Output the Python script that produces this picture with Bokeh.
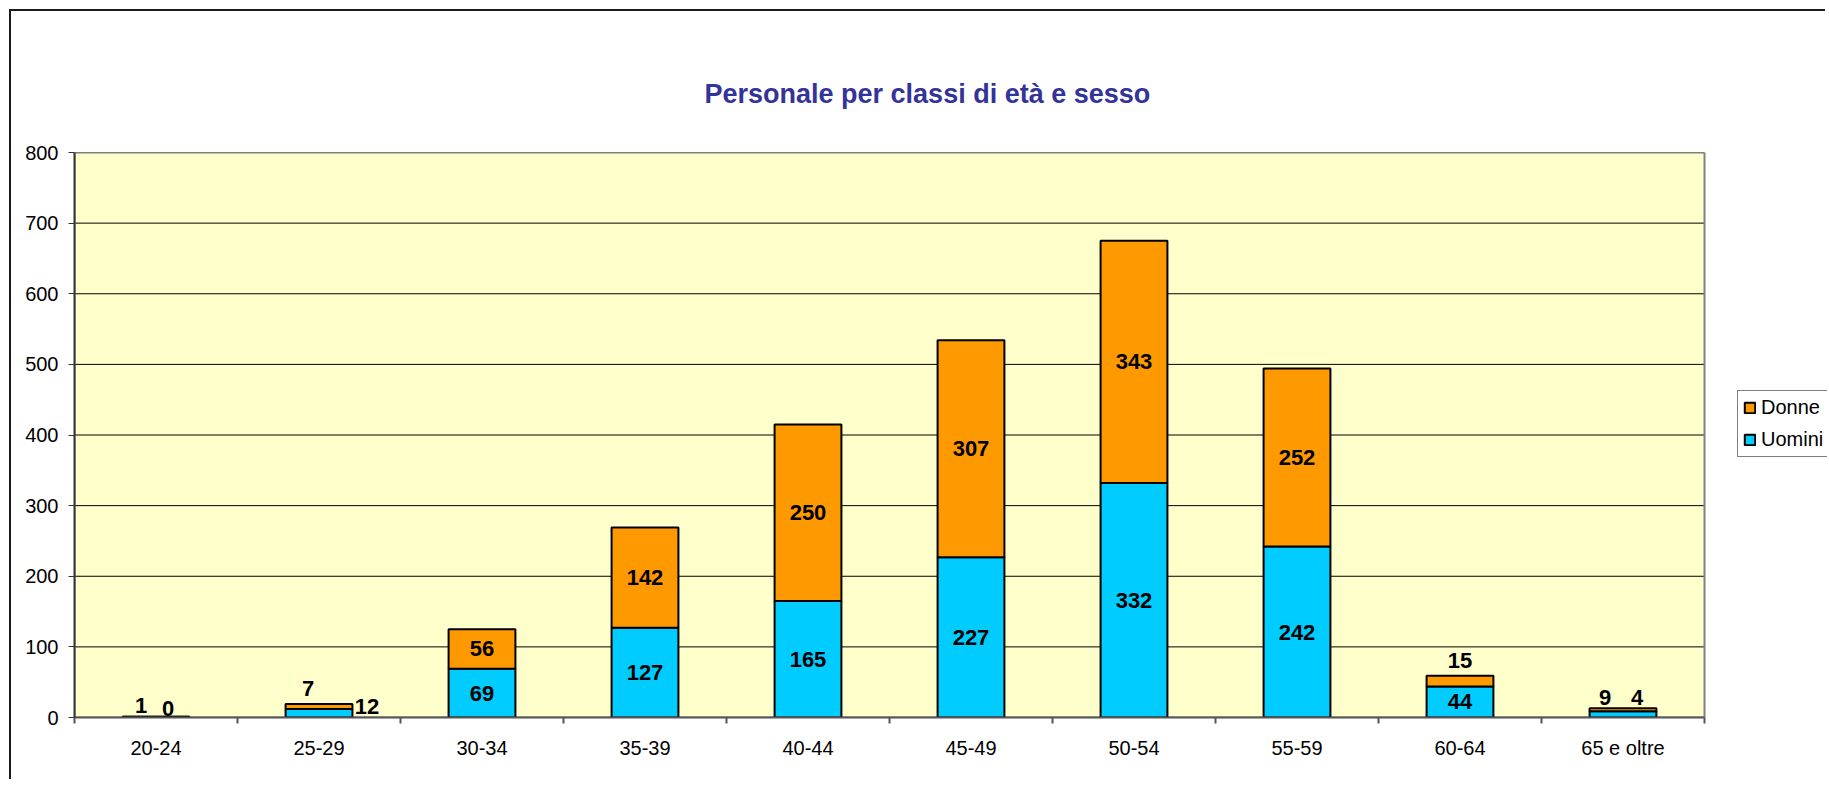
from bokeh.plotting import figure
from bokeh.models import ColumnDataSource, FixedTicker, Legend, LegendItem, Range1d
from bokeh.embed import file_html
from bokeh.resources import INLINE

# ---- data ----
categories = ["20-24", "25-29", "30-34", "35-39", "40-44", "45-49", "50-54", "55-59", "60-64", "65 e oltre"]
uomini = [1, 12, 69, 127, 165, 227, 332, 242, 44, 9]
donne = [0, 7, 56, 142, 250, 307, 343, 252, 15, 4]
y_ticks = [0, 100, 200, 300, 400, 500, 600, 700, 800]
title_text = "Personale per classi di età e sesso"

# label offsets in screen pixels for crowded small bars (style only)
label_offsets = {
    ("20-24", "U"): (-15, -12), ("20-24", "D"): (12, -8),
    ("25-29", "U"): (48, -7), ("25-29", "D"): (-11, -18),
    ("60-64", "D"): (0, -21),
    ("65 e oltre", "U"): (-18, -17), ("65 e oltre", "D"): (14, -12),
}

FONT = "Liberation Sans"
n = len(categories)
xs = [i + 0.5 for i in range(n)]
tops = [u + d for u, d in zip(uomini, donne)]
y_max = y_ticks[-1]

# layout: plot area 1630 px wide for the n categories; canvas extends further right
# so that the legend (outside the plot area) can be drawn in the same frame.
PLOT_W = 1630
FRAME_W = 1753
x_end = n * FRAME_W / PLOT_W

p = figure(width=1816, height=770, x_range=Range1d(0, x_end), y_range=Range1d(0, y_max),
           output_backend="svg", toolbar_location=None,
           min_border_left=63, min_border_right=0, min_border_top=141, min_border_bottom=64)
p.styles = {"border-left": "2px solid #1a1a1a", "border-top": "2px solid #1a1a1a",
            "margin-left": "9px", "margin-top": "9px"}
p.border_fill_color = "white"
p.background_fill_color = "white"
p.outline_line_color = None

# title
p.title.text = title_text
p.title.align = "left"
p.title.offset = 630
p.title.text_font = FONT
p.title.text_font_size = "27px"
p.title.text_font_style = "bold"
p.title.text_color = "#333399"
p.title.standoff = 88

# plot area background (categories x value range)
p.quad(left=[0], right=[n], bottom=[0], top=[y_max], fill_color="#FFFFCC", line_color=None)

# horizontal grid lines across the plot area
p.xgrid.visible = False
p.ygrid.visible = False
p.segment(x0=[0] * len(y_ticks), x1=[n] * len(y_ticks), y0=y_ticks, y1=y_ticks,
          line_color="#000000", line_width=1)
p.quad(left=[0], right=[n], bottom=[0], top=[y_max], fill_color=None,
       line_color="#808080", line_width=2)

# y axis
p.yaxis.ticker = FixedTicker(ticks=y_ticks)
p.yaxis.major_tick_out = 6
p.yaxis.major_tick_in = 0
p.yaxis.minor_tick_line_color = None
p.yaxis.axis_line_color = "#333333"
p.yaxis.axis_line_width = 2
p.yaxis.major_tick_line_color = "#333333"
p.yaxis.major_label_text_font = FONT
p.yaxis.major_label_text_font_size = "20px"
p.yaxis.major_label_text_color = "black"
p.yaxis.major_label_standoff = 10

# x axis: ticks on category boundaries, labels at centers
p.xaxis.ticker = FixedTicker(ticks=xs, minor_ticks=list(range(n + 1)))
p.xaxis.major_label_overrides = {x: c for x, c in zip(xs, categories)}
p.xaxis.bounds = (0, n)
p.xaxis.major_tick_out = 0
p.xaxis.major_tick_in = 0
p.xaxis.minor_tick_out = 6
p.xaxis.minor_tick_in = 0
p.xaxis.minor_tick_line_color = "#555555"
p.xaxis.minor_tick_line_width = 2
p.xaxis.axis_line_color = "#555555"
p.xaxis.axis_line_width = 2
p.xaxis.major_label_text_font = FONT
p.xaxis.major_label_text_font_size = "20px"
p.xaxis.major_label_text_color = "black"
p.xaxis.major_label_standoff = 13

# bars
src = ColumnDataSource(dict(x=xs, u=uomini, t=tops))
r_u = p.vbar(x="x", bottom=0, top="u", width=0.41, source=src,
             fill_color="#00CCFF", line_color="black", line_width=2)
r_d = p.vbar(x="x", bottom="u", top="t", width=0.41, source=src,
             fill_color="#FF9900", line_color="black", line_width=2)

# value labels
lx, ly, lt, lxo, lyo = [], [], [], [], []
for i, c in enumerate(categories):
    for key, base, v in (("U", 0, uomini[i]), ("D", uomini[i], donne[i])):
        dx, dy = label_offsets.get((c, key), (0, 0))
        lx.append(xs[i]); ly.append(base + v / 2); lt.append(str(v))
        lxo.append(dx); lyo.append(dy)
lsrc = ColumnDataSource(dict(x=lx, y=ly, text=lt, xo=lxo, yo=lyo))
p.text(x="x", y="y", text="text", x_offset="xo", y_offset="yo", source=lsrc,
       text_font={"value": FONT}, text_font_size={"value": "22px"}, text_font_style="bold",
       text_color="black", text_align="center", text_baseline="middle")

# legend (to the right of the plot area)
legend = Legend(items=[LegendItem(label="Donne", renderers=[r_d]),
                       LegendItem(label="Uomini", renderers=[r_u])],
                location=(1663, 260), orientation="vertical")
legend.label_text_font = FONT
legend.label_text_font_size = "20px"
legend.label_text_color = "black"
legend.glyph_width = 13
legend.glyph_height = 13
legend.label_standoff = 5
legend.label_height = 23
legend.spacing = 9
legend.padding = 5
legend.margin = 0
legend.border_line_color = "black"
legend.border_line_width = 1
legend.background_fill_color = "white"
legend.background_fill_alpha = 1
p.add_layout(legend, "center")

open("out.html", "w").write(file_html(p, INLINE))
